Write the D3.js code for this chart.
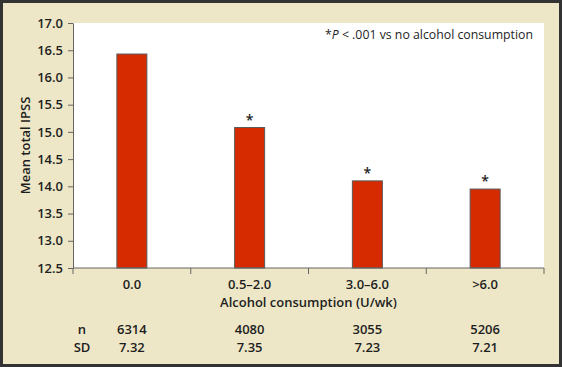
<!DOCTYPE html>
<html>
<head>
<meta charset="utf-8">
<script src="https://cdn.jsdelivr.net/npm/d3@7"></script>
<style>
  html, body { margin: 0; padding: 0; background: #fff; }
  #chart { width: 562px; height: 367px; }
  text { font-family: "Open Sans", sans-serif; fill: #1e1e1e; }
</style>
</head>
<body>
<div id="chart"></div>
<script>
const categories = ["0.0", "0.5\u20132.0", "3.0\u20136.0", ">6.0"];
const meanIpss = [16.43, 15.08, 14.10, 13.95];
const significant = [false, true, true, true];
const nValues = ["6314", "4080", "3055", "5206"];
const sdValues = ["7.32", "7.35", "7.23", "7.21"];
const yTicks = [12.5, 13.0, 13.5, 14.0, 14.5, 15.0, 15.5, 16.0, 16.5, 17.0];

function draw() {
  const w = 562, h = 367;
  const margin = { top: 23, right: 18, bottom: 99, left: 73 };
  const innerW = w - margin.left - margin.right;
  const innerH = h - margin.top - margin.bottom;

  const svg = d3.select("#chart").append("svg")
    .attr("width", w).attr("height", h);

  // beige panel with dark frame
  svg.append("rect")
    .attr("x", 1.5).attr("y", 1.5)
    .attr("width", w - 3).attr("height", h - 3)
    .attr("fill", "#ede7c7")
    .attr("stroke", "#333").attr("stroke-width", 3);

  const g = svg.append("g")
    .attr("transform", `translate(${margin.left},${margin.top})`);

  g.append("rect")
    .attr("width", innerW).attr("height", innerH)
    .attr("fill", "#fff");

  const x = d3.scaleBand().domain(categories).range([0, innerW]).padding(0);
  const y = d3.scaleLinear().domain([12.5, 17]).range([innerH, 0]);

  const barW = 30;

  // bars
  g.selectAll("rect.bar")
    .data(categories)
    .join("rect")
    .attr("class", "bar")
    .attr("x", (d) => x(d) + x.bandwidth() / 2 - barW / 2)
    .attr("y", (d, i) => y(meanIpss[i]))
    .attr("width", barW)
    .attr("height", (d, i) => innerH - y(meanIpss[i]))
    .attr("fill", "#d62a00")
    .attr("stroke", "#5a5a5a")
    .attr("stroke-width", 1);

  // significance stars
  g.selectAll("text.star")
    .data(categories.filter((d, i) => significant[i]))
    .join("text")
    .attr("class", "star")
    .attr("x", (d) => x(d) + x.bandwidth() / 2)
    .attr("y", (d) => y(meanIpss[categories.indexOf(d)]) - 3)
    .attr("text-anchor", "middle")
    .style("font-size", "14px").style("font-weight", 600)
    .text("*");

  // y axis
  const yAxis = g.append("g")
    .call(d3.axisLeft(y).tickValues(yTicks).tickFormat(d3.format(".1f")).tickSize(5).tickSizeOuter(0).tickPadding(5));
  yAxis.select(".domain").attr("stroke", "#666");
  yAxis.selectAll(".tick line").attr("stroke", "#666");
  yAxis.selectAll("text")
    .style("font-size", "13px").style("font-weight", 600)
    .attr("fill", "#1e1e1e");

  // x axis: ticks at category boundaries
  const xAxisG = g.append("g").attr("transform", `translate(0,${innerH})`);
  xAxisG.append("line")
    .attr("x1", 0).attr("x2", innerW)
    .attr("stroke", "#666");
  const bounds = categories.map((d) => x(d)).concat([innerW]);
  xAxisG.selectAll("line.tk")
    .data(bounds)
    .join("line")
    .attr("class", "tk")
    .attr("x1", (d) => d).attr("x2", (d) => d)
    .attr("y1", 0).attr("y2", 6)
    .attr("stroke", "#666");
  xAxisG.selectAll("text.cat")
    .data(categories)
    .join("text")
    .attr("class", "cat")
    .attr("x", (d) => x(d) + x.bandwidth() / 2)
    .attr("y", 21)
    .attr("text-anchor", "middle")
    .style("font-size", "13px").style("font-weight", 600)
    .text((d) => d);

  // axis titles
  g.append("text")
    .attr("x", innerW / 2).attr("y", innerH + 39)
    .attr("text-anchor", "middle")
    .style("font-size", "13px").style("font-weight", 600)
    .text("Alcohol consumption (U/wk)");

  g.append("text")
    .attr("transform", "rotate(-90)")
    .attr("x", -innerH / 2).attr("y", -43)
    .attr("text-anchor", "middle")
    .style("font-size", "13px").style("font-weight", 600)
    .text("Mean total IPSS");

  // n and SD rows
  const rows = [["n", nValues, 66], ["SD", sdValues, 84]];
  rows.forEach(([label, vals, dy]) => {
    g.append("text")
      .attr("x", 9).attr("y", innerH + dy)
      .attr("text-anchor", "middle")
      .style("font-size", "13px").style("font-weight", 600)
      .text(label);
    g.selectAll(null)
      .data(categories)
      .join("text")
      .attr("x", (d) => x(d) + x.bandwidth() / 2)
      .attr("y", innerH + dy)
      .attr("text-anchor", "middle")
      .style("font-size", "13px").style("font-weight", 600)
      .text((d, i) => vals[i]);
  });

  // footnote
  const note = g.append("text")
    .attr("x", innerW - 11).attr("y", 16)
    .attr("text-anchor", "end")
    .style("font-size", "12.3px");
  note.append("tspan").text("*");
  note.append("tspan").style("font-style", "italic").text("P");
  note.append("tspan").text(" < .001 vs no alcohol consumption");
}

draw();
</script>
</body>
</html>
